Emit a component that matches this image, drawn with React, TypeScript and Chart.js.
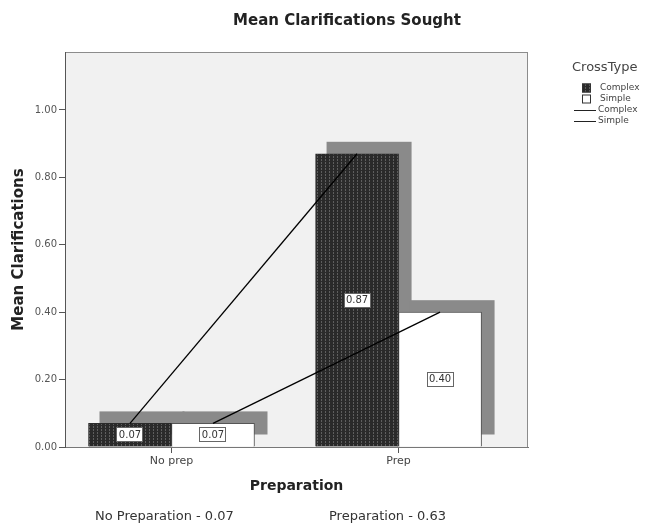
import React, { useEffect, useRef } from 'react';
import { Chart, registerables } from 'chart.js';

Chart.register(...registerables);

const categories = ['No prep', 'Prep'];
const seriesNames = ['Complex', 'Simple'];
const complexMeans = [0.07, 0.87];
const simpleMeans = [0.07, 0.4];
const yTickValues = [0, 0.2, 0.4, 0.6, 0.8, 1.0];
const chartTitle = 'Mean Clarifications Sought';
const legendTitle = 'CrossType';
const xTitle = 'Preparation';
const yTitle = 'Mean Clarifications';
const footnotes = ['No Preparation - 0.07', 'Preparation - 0.63'];

const FONT = "'DejaVu Sans', 'Liberation Sans', sans-serif";

function makePattern(): CanvasPattern | string {
  const c = document.createElement('canvas');
  c.width = 4;
  c.height = 3;
  const g = c.getContext('2d');
  if (!g) return '#333';
  g.fillStyle = '#2a2a2a';
  g.fillRect(0, 0, 4, 3);
  g.fillStyle = '#5e5e5e';
  g.fillRect(1, 0, 1, 2);
  const p = g.createPattern(c, 'repeat');
  return p || '#333';
}

const decor = {
  id: 'decor',
  beforeDraw(chart: any) {
    const { ctx, chartArea: a } = chart;
    ctx.save();
    ctx.fillStyle = '#ffffff';
    ctx.fillRect(0, 0, chart.width, chart.height);
    ctx.fillStyle = '#f1f1f1';
    ctx.fillRect(a.left, a.top, a.right - a.left, a.bottom - a.top);
    ctx.strokeStyle = '#8c8c8c';
    ctx.lineWidth = 1;
    ctx.strokeRect(a.left + 0.5, a.top + 0.5, a.right - a.left - 1, a.bottom - a.top);
    ctx.restore();
  },
  beforeDatasetsDraw(chart: any) {
    const ctx = chart.ctx;
    ctx.save();
    ctx.fillStyle = '#8a8a8a';
    chart.data.datasets.forEach((_: any, i: number) => {
      const meta = chart.getDatasetMeta(i);
      meta.data.forEach((el: any) => {
        const w = el.width;
        ctx.fillRect(el.x - w / 2 + 11, el.y - 12, w + 2, el.base - el.y);
      });
    });
    ctx.restore();
  },
  afterDatasetsDraw(chart: any) {
    const ctx = chart.ctx;
    ctx.save();
    // connecting lines between the bar tops of each series
    ctx.strokeStyle = '#000';
    ctx.lineWidth = 1.3;
    chart.data.datasets.forEach((_: any, i: number) => {
      const meta = chart.getDatasetMeta(i);
      ctx.beginPath();
      meta.data.forEach((el: any, j: number) => {
        if (j === 0) ctx.moveTo(el.x, el.y);
        else ctx.lineTo(el.x, el.y);
      });
      ctx.stroke();
    });
    // value labels
    ctx.lineWidth = 1;
    ctx.font = `10px ${FONT}`;
    ctx.textAlign = 'center';
    ctx.textBaseline = 'middle';
    chart.data.datasets.forEach((ds: any, i: number) => {
      const meta = chart.getDatasetMeta(i);
      meta.data.forEach((el: any, j: number) => {
        const v = ds.data[j].y;
        const cx = el.x;
        const cy = (el.y + el.base) / 2;
        const bw = 27;
        const bh = 15;
        ctx.fillStyle = '#ffffff';
        ctx.fillRect(Math.round(cx - bw / 2), Math.round(cy - bh / 2), bw, bh);
        ctx.strokeStyle = '#666';
        ctx.strokeRect(Math.round(cx - bw / 2) + 0.5, Math.round(cy - bh / 2) + 0.5, bw - 1, bh - 1);
        ctx.fillStyle = '#333';
        ctx.fillText(Number(v).toFixed(2), cx, cy + 0.5);
      });
    });
    ctx.restore();
  },
  afterDraw(chart: any) {
    const ctx = chart.ctx;
    ctx.save();
    // title
    ctx.fillStyle = '#222';
    ctx.font = `bold 15px ${FONT}`;
    ctx.textAlign = 'center';
    ctx.textBaseline = 'middle';
    ctx.fillText(chartTitle, 347, 21);
    // legend
    ctx.textAlign = 'left';
    ctx.fillStyle = '#444';
    ctx.font = `13px ${FONT}`;
    ctx.fillText(legendTitle, 572, 68);
    ctx.font = `9px ${FONT}`;
    let y = 88;
    chart.data.datasets.forEach((ds: any) => {
      ctx.fillStyle = ds.backgroundColor;
      ctx.fillRect(582, y - 4.5, 9, 9);
      ctx.strokeStyle = '#333';
      ctx.lineWidth = 1;
      ctx.strokeRect(582.5, y - 4, 8, 8);
      ctx.fillStyle = '#444';
      ctx.fillText(ds.label, 600, y);
      y += 11;
    });
    chart.data.datasets.forEach((ds: any) => {
      ctx.strokeStyle = '#222';
      ctx.beginPath();
      ctx.moveTo(574, Math.round(y) + 0.5);
      ctx.lineTo(596, Math.round(y) + 0.5);
      ctx.stroke();
      ctx.fillStyle = '#444';
      ctx.fillText(ds.label, 598, y);
      y += 11;
    });
    // footnotes
    ctx.font = `13px ${FONT}`;
    ctx.fillStyle = '#333';
    ctx.fillText(footnotes[0], 95, 517);
    ctx.fillText(footnotes[1], 329, 517);
    ctx.restore();
  },
};

export default function App() {
  const ref = useRef<HTMLCanvasElement | null>(null);

  useEffect(() => {
    if (!ref.current) return;
    const pattern = makePattern();
    const tickFont = { family: FONT, size: 10 };
    const chart = new Chart(ref.current, {
      type: 'bar',
      data: {
        datasets: [
          {
            label: seriesNames[0],
            data: complexMeans.map((v, i) => ({ x: i, y: v })),
            backgroundColor: pattern as any,
            borderColor: '#2a2a2a',
            borderWidth: 1,
            barThickness: 83,
          },
          {
            label: seriesNames[1],
            data: simpleMeans.map((v, i) => ({ x: i, y: v })),
            backgroundColor: '#ffffff',
            borderColor: '#555555',
            borderWidth: 1,
            barThickness: 83,
          },
        ],
      },
      options: {
        animation: false,
        responsive: true,
        maintainAspectRatio: false,
        events: [],
        layout: { padding: { left: 0, right: 120, top: 52, bottom: 29 } },
        plugins: {
          legend: { display: false },
          title: { display: false },
          tooltip: { enabled: false },
        },
        scales: {
          x: {
            type: 'linear',
            offset: false,
            min: -0.469,
            max: 1.57,
            afterBuildTicks: (s: any) => {
              s.ticks = categories.map((_, i) => ({ value: i }));
            },
            afterFit: (s: any) => {
              s.height = 50;
            },
            ticks: {
              callback: (v: any) => categories[Math.round(Number(v))] ?? '',
              font: { family: FONT, size: 11 },
              color: '#444',
              padding: 2,
              autoSkip: false,
              maxRotation: 0,
            },
            grid: { offset: false, drawOnChartArea: false, tickLength: 6, color: '#555' },
            border: { display: true, color: '#777' },
            title: {
              display: true,
              text: xTitle,
              font: { family: FONT, size: 14, weight: 'bold' },
              color: '#222',
              padding: { top: 0, bottom: 2 },
            },
          },
          y: {
            min: 0,
            max: 1.172,
            afterBuildTicks: (s: any) => {
              s.ticks = yTickValues.map((v) => ({ value: v }));
            },
            afterFit: (s: any) => {
              s.width = 65;
            },
            ticks: {
              callback: (v: any) => Number(v).toFixed(2),
              font: tickFont,
              color: '#555',
              padding: 2,
            },
            grid: { drawOnChartArea: false, tickLength: 6, color: '#555' },
            border: { display: true, color: '#555' },
            title: {
              display: true,
              text: yTitle,
              font: { family: FONT, size: 15, weight: 'bold' },
              color: '#222',
              padding: { top: 10, bottom: 0 },
            },
          },
        },
      },
      plugins: [decor],
    } as any);
    return () => chart.destroy();
  }, []);

  return (
    <div style={{ position: 'absolute', left: 0, top: 0, width: 648, height: 526 }}>
      <canvas ref={ref} />
    </div>
  );
}
